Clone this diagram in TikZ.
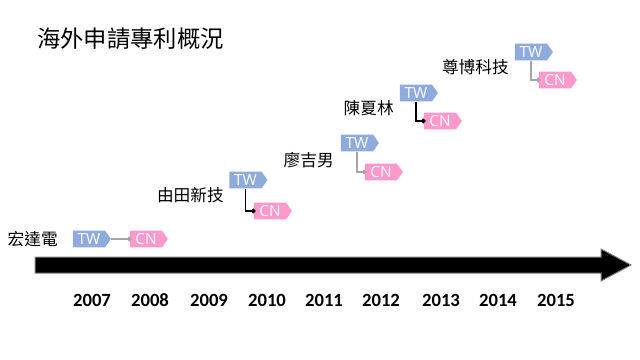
\documentclass[tikz,border=0pt]{standalone}
\usepackage{fontspec}
\setmainfont{Open Sans}
\newfontfamily\cjk{Noto Sans CJK TC}
\newfontfamily\yearfont{Carlito}
\usetikzlibrary{shapes.symbols,arrows.meta}
\definecolor{twblue}{HTML}{8FAADC}
\definecolor{cnpink}{HTML}{FF99CC}
\definecolor{linkgray}{HTML}{A6A6A6}
\definecolor{arrowedge}{HTML}{7F7F7F}
\begin{document}
\begin{tikzpicture}[x=0.75pt,y=-0.75pt,
  tag/.style={shape=signal, signal to=east, signal pointer angle=110,
    minimum width=28.5pt, minimum height=12.5pt, inner sep=0pt, text=white,
    font=\fontsize{11.5}{12}\selectfont},
  tw/.style={tag, fill=twblue},
  cn/.style={tag, fill=cnpink},
  lab/.style={font=\cjk\fontsize{12.5}{14}\selectfont, anchor=east, inner sep=0pt},
  yr/.style={font=\yearfont\bfseries\fontsize{14}{16}\selectfont},
  link/.style={line width=1pt, -{Circle[length=3.5pt]}, shorten >=-1.5pt}
]
\useasboundingbox (0,0) rectangle (640,360);

% title
\node[anchor=west, inner sep=0pt, font=\cjk\fontsize{17.5}{20}\selectfont] (title) at (37,39) {海外申請專利概況};

% timeline arrow
\draw[fill=black, draw=arrowedge, line width=0.75pt]
  (35,257) -- (601,257) -- (601,249) -- (631,265) -- (601,281) -- (601,273) -- (35,273) -- cycle;

% years
\node[yr] (y2007) at (92,300) {2007};
\node[yr] (y2008) at (150,300) {2008};
\node[yr] (y2009) at (209,300) {2009};
\node[yr] (y2010) at (267,300) {2010};
\node[yr] (y2011) at (324,300) {2011};
\node[yr] (y2012) at (381,300) {2012};
\node[yr] (y2013) at (441,300) {2013};
\node[yr] (y2014) at (498,300) {2014};
\node[yr] (y2015) at (556,300) {2015};

% 宏達電
\node[lab] (l1) at (58,239) {宏達電};
\node[tw] (tw1) at (89,239) {TW};
\node[cn] (cn1) at (146,239) {CN};
\draw[link, linkgray] (tw1.east) -- (cn1.west);

% 由田新技
\node[lab] (l2) at (224,195) {由田新技};
\node[tw] (tw2) at (245.5,180) {TW};
\node[cn] (cn2) at (270,211) {CN};
\draw[link, black] (tw2.south) |- (cn2.west);

% 廖吉男
\node[lab] (l3) at (334,160) {廖吉男};
\node[tw] (tw3) at (357,143) {TW};
\node[cn] (cn3) at (381,172) {CN};
\draw[link, linkgray] (tw3.south) |- (cn3.west);

% 陳夏林
\node[lab] (l4) at (394,108) {陳夏林};
\node[tw] (tw4) at (416,93) {TW};
\node[cn] (cn4) at (440,121) {CN};
\draw[link, black] (tw4.south) |- (cn4.west);

% 尊博科技
\node[lab] (l5) at (509,67) {尊博科技};
\node[tw] (tw5) at (531,52) {TW};
\node[cn] (cn5) at (555,80) {CN};
\draw[link, linkgray] (tw5.south) |- (cn5.west);
\end{tikzpicture}
\end{document}
